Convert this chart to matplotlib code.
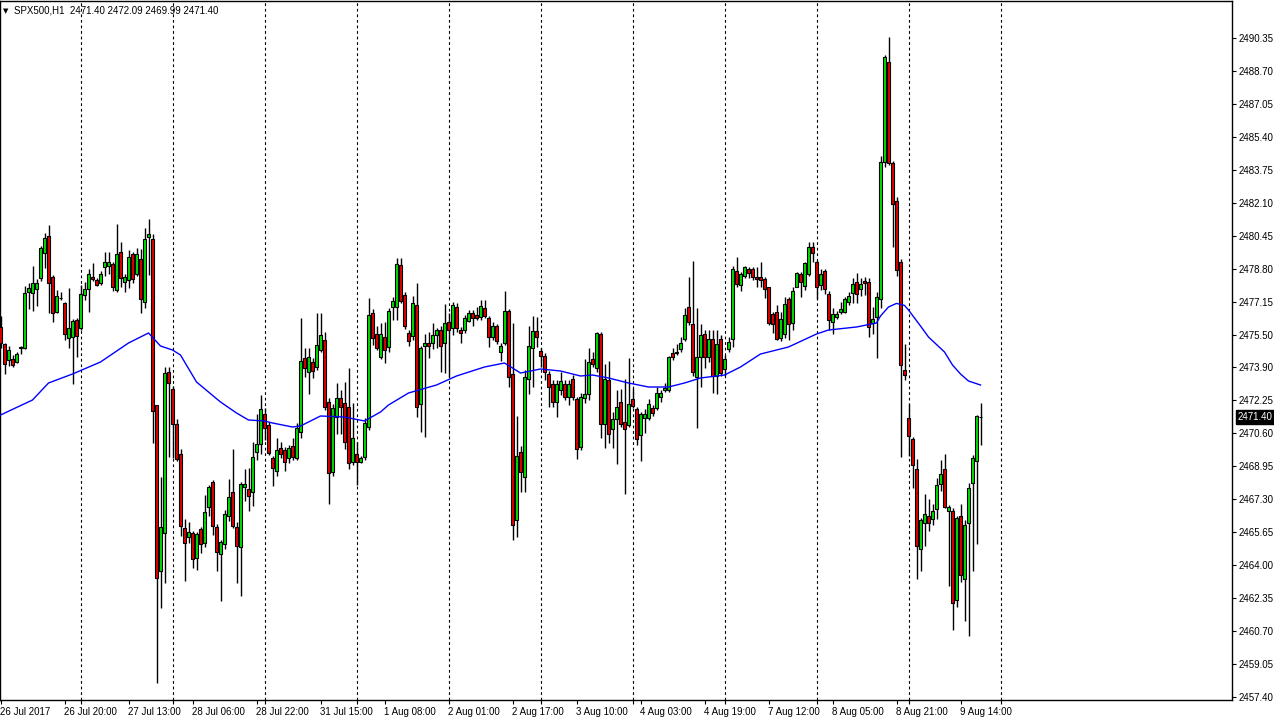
import numpy as np
import matplotlib
matplotlib.use("Agg")
from matplotlib import pyplot as plt
from matplotlib import transforms

plt.rcParams['font.family'] = ['Liberation Sans', 'DejaVu Sans']

# SPX500 H1 candles, bar 0 = 26 Jul 2017 04:00
opens = [
    2475.89, 2475.04, 2474.24, 2474.29, 2474.14, 2474.84, 2474.84, 2477.64, 2477.59, 2477.79,
    2478.34, 2479.59, 2480.44, 2478.39, 2476.64, 2477.34, 2477.09, 2475.34, 2475.39, 2476.24,
    2475.84, 2477.49, 2477.79, 2478.39, 2478.24, 2478.09, 2478.89, 2478.94, 2479.04, 2477.74,
    2479.64, 2478.14, 2478.24, 2479.54, 2478.54, 2479.29, 2477.14, 2480.39, 2480.29, 2471.99,
    2463.69, 2465.59, 2473.64, 2472.79, 2471.04, 2469.54, 2465.84, 2465.39, 2465.59, 2464.34,
    2465.79, 2465.09, 2466.89, 2468.14, 2465.89, 2464.54, 2465.04, 2466.44, 2467.64, 2465.89,
    2464.89, 2467.89, 2467.79, 2467.64, 2469.64, 2470.04, 2471.54, 2470.99, 2469.34, 2468.69,
    2469.84, 2469.74, 2469.34, 2469.94, 2469.34, 2470.64, 2474.34, 2473.64, 2474.14, 2473.89,
    2474.74, 2475.24, 2472.14, 2468.64, 2471.39, 2472.34, 2472.09, 2471.89, 2469.14, 2469.54,
    2469.14, 2469.39, 2470.89, 2476.59, 2475.54, 2474.39, 2475.39, 2474.89, 2476.89, 2476.89,
    2478.99, 2477.49, 2475.59, 2475.44, 2476.99, 2472.04, 2474.94, 2475.09, 2475.09, 2475.49,
    2475.74, 2475.09, 2476.14, 2475.84, 2476.89, 2475.74, 2475.74, 2476.19, 2476.59, 2476.49,
    2476.39, 2476.84, 2476.34, 2475.39, 2475.94, 2474.64, 2475.09, 2476.69, 2473.54, 2466.24,
    2469.64, 2468.39, 2473.29, 2474.84, 2475.69, 2474.69, 2474.44, 2473.54, 2473.04, 2472.14,
    2472.74, 2473.04, 2472.39, 2473.29, 2472.29, 2469.89, 2472.34, 2472.54, 2474.29, 2473.84,
    2475.54, 2471.04, 2473.24, 2470.79, 2471.29, 2472.14, 2471.14, 2470.99, 2472.29, 2471.79,
    2470.49, 2471.34, 2471.34, 2471.84, 2471.84, 2472.39, 2472.74, 2472.74, 2474.59, 2474.59,
    2474.79, 2475.29, 2476.89, 2476.04, 2473.39, 2474.39, 2475.54, 2474.39, 2475.29, 2473.44,
    2475.29, 2473.79, 2474.79, 2475.29, 2478.69, 2477.99, 2478.44, 2478.79, 2478.79, 2478.39,
    2478.39, 2478.29, 2477.89, 2476.54, 2476.64, 2475.34, 2475.54, 2477.29, 2476.09, 2477.89,
    2478.54, 2477.94, 2478.54, 2479.89, 2479.14, 2477.99, 2478.69, 2477.54, 2476.14, 2476.39,
    2476.64, 2476.64, 2477.14, 2477.59, 2478.14, 2477.79, 2478.19, 2478.14, 2476.09, 2476.39,
    2477.29, 2484.14, 2489.14, 2484.09, 2482.19, 2479.14, 2473.74, 2471.34, 2470.29, 2468.79,
    2464.79, 2466.09, 2466.44, 2466.29, 2466.79, 2468.04, 2468.79, 2466.69, 2466.69, 2462.24,
    2466.44, 2463.29, 2466.09, 2468.09, 2469.19, 2471.40,
]
highs = [
    2476.44, 2475.09, 2474.94, 2474.49, 2474.64, 2474.94, 2477.94, 2478.09, 2478.94, 2478.29,
    2479.94, 2480.59, 2480.99, 2478.49, 2477.74, 2477.64, 2477.14, 2477.84, 2476.29, 2476.34,
    2477.99, 2478.14, 2478.79, 2479.09, 2478.34, 2478.69, 2479.64, 2479.64, 2479.14, 2481.04,
    2480.14, 2478.54, 2479.74, 2479.64, 2479.84, 2479.79, 2480.84, 2481.29, 2480.54, 2471.99,
    2468.39, 2473.89, 2473.89, 2472.94, 2471.29, 2469.79, 2466.29, 2466.14, 2465.69, 2465.64,
    2465.89, 2467.49, 2467.99, 2468.24, 2466.04, 2465.24, 2466.74, 2468.29, 2469.79, 2466.14,
    2468.14, 2468.79, 2468.84, 2470.14, 2471.54, 2472.49, 2471.84, 2471.14, 2469.44, 2470.34,
    2470.14, 2469.89, 2469.99, 2470.34, 2471.09, 2476.34, 2474.84, 2474.84, 2474.34, 2476.59,
    2476.59, 2475.64, 2472.34, 2472.04, 2473.09, 2472.74, 2473.14, 2473.84, 2472.09, 2470.14,
    2469.44, 2471.34, 2477.34, 2476.79, 2475.94, 2476.09, 2476.14, 2476.84, 2477.39, 2479.34,
    2479.34, 2477.64, 2475.74, 2477.44, 2478.09, 2474.94, 2475.54, 2475.64, 2476.09, 2475.84,
    2475.94, 2477.04, 2476.59, 2477.14, 2477.09, 2475.89, 2476.49, 2476.74, 2476.74, 2476.89,
    2477.24, 2477.24, 2476.44, 2476.14, 2476.04, 2475.09, 2477.69, 2476.79, 2476.09, 2471.44,
    2469.94, 2473.74, 2475.94, 2476.44, 2476.39, 2474.84, 2474.59, 2473.69, 2473.24, 2473.24,
    2473.64, 2473.24, 2473.24, 2473.49, 2472.39, 2472.59, 2474.29, 2474.84, 2474.64, 2475.64,
    2475.64, 2474.04, 2474.19, 2471.64, 2472.74, 2472.79, 2473.29, 2474.34, 2472.84, 2471.89,
    2471.64, 2471.79, 2472.29, 2471.99, 2472.89, 2472.74, 2473.09, 2474.44, 2474.84, 2475.04,
    2475.39, 2476.84, 2478.39, 2479.19, 2476.84, 2476.04, 2475.74, 2475.74, 2475.74, 2475.74,
    2475.49, 2474.49, 2475.39, 2478.94, 2479.39, 2478.64, 2478.94, 2478.89, 2478.89, 2478.89,
    2479.14, 2478.39, 2477.89, 2476.64, 2476.99, 2476.64, 2477.39, 2477.39, 2477.89, 2478.64,
    2478.64, 2479.14, 2480.14, 2480.14, 2479.24, 2478.79, 2478.79, 2477.69, 2476.84, 2476.69,
    2477.14, 2477.39, 2477.64, 2478.34, 2478.59, 2478.34, 2478.39, 2478.34, 2476.89, 2477.64,
    2484.44, 2489.49, 2490.39, 2484.19, 2482.39, 2479.29, 2475.04, 2472.04, 2470.39, 2469.29,
    2466.34, 2467.54, 2467.29, 2467.04, 2468.34, 2469.24, 2469.54, 2466.99, 2466.84, 2466.44,
    2467.04, 2466.24, 2468.09, 2469.49, 2471.49, 2472.09,
]
lows = [
    2474.84, 2473.54, 2473.94, 2473.89, 2474.09, 2474.54, 2474.79, 2476.79, 2476.69, 2476.94,
    2478.19, 2478.84, 2476.59, 2476.14, 2476.59, 2477.24, 2475.24, 2474.84, 2473.04, 2474.39,
    2475.74, 2477.24, 2476.64, 2478.19, 2477.94, 2477.99, 2478.44, 2478.54, 2477.69, 2477.64,
    2477.89, 2477.64, 2477.84, 2478.09, 2478.44, 2476.59, 2476.84, 2478.49, 2470.09, 2458.09,
    2461.84, 2463.09, 2469.39, 2469.34, 2469.19, 2465.44, 2463.19, 2465.09, 2463.84, 2463.74,
    2464.59, 2464.89, 2466.44, 2465.49, 2463.69, 2462.19, 2464.79, 2466.19, 2465.84, 2463.09,
    2462.44, 2467.19, 2466.69, 2466.94, 2469.24, 2469.54, 2470.24, 2469.49, 2467.94, 2468.44,
    2469.34, 2468.69, 2469.09, 2469.24, 2469.24, 2470.34, 2473.39, 2472.54, 2473.34, 2473.74,
    2474.64, 2471.74, 2467.04, 2468.44, 2470.54, 2470.54, 2469.79, 2468.79, 2468.99, 2467.99,
    2469.09, 2469.24, 2470.74, 2474.99, 2474.74, 2474.29, 2474.09, 2474.64, 2476.24, 2476.24,
    2477.09, 2475.79, 2474.94, 2475.24, 2471.39, 2470.64, 2470.39, 2474.34, 2474.79, 2474.84,
    2473.64, 2473.59, 2473.39, 2475.49, 2475.64, 2475.09, 2475.59, 2476.14, 2475.94, 2476.24,
    2476.24, 2476.34, 2474.89, 2475.24, 2475.04, 2474.19, 2474.99, 2472.89, 2465.24, 2465.39,
    2467.64, 2467.64, 2472.54, 2472.89, 2474.89, 2473.89, 2473.24, 2471.89, 2471.89, 2471.39,
    2472.49, 2472.24, 2471.99, 2472.24, 2469.29, 2469.74, 2472.09, 2472.24, 2473.89, 2473.64,
    2470.34, 2469.84, 2470.09, 2469.84, 2469.04, 2470.89, 2467.54, 2470.89, 2471.84, 2469.99,
    2469.19, 2470.59, 2471.24, 2471.44, 2471.74, 2472.14, 2472.64, 2472.64, 2474.24, 2474.49,
    2474.64, 2475.19, 2475.99, 2473.44, 2470.84, 2472.89, 2473.84, 2474.14, 2472.59, 2472.54,
    2473.44, 2473.44, 2474.64, 2474.89, 2477.89, 2477.69, 2478.34, 2478.34, 2478.24, 2477.89,
    2477.89, 2477.34, 2475.99, 2475.59, 2475.24, 2475.19, 2475.34, 2475.24, 2475.74, 2477.89,
    2477.39, 2477.74, 2478.44, 2479.14, 2477.29, 2477.74, 2477.54, 2475.74, 2475.54, 2476.29,
    2476.54, 2476.59, 2476.99, 2477.09, 2477.09, 2477.44, 2477.49, 2475.39, 2475.54, 2474.34,
    2476.84, 2483.89, 2483.99, 2479.89, 2478.44, 2469.39, 2473.24, 2469.44, 2467.84, 2463.29,
    2463.69, 2464.94, 2465.69, 2465.99, 2466.29, 2467.69, 2466.84, 2462.94, 2460.74, 2461.89,
    2463.14, 2461.19, 2460.44, 2463.69, 2465.04, 2469.99,
]
closes = [
    2475.09, 2474.04, 2474.74, 2473.99, 2474.54, 2474.89, 2477.59, 2477.84, 2478.09, 2478.09,
    2479.84, 2480.34, 2478.09, 2476.59, 2477.44, 2477.34, 2475.54, 2475.84, 2476.19, 2475.44,
    2477.54, 2477.79, 2478.54, 2478.29, 2477.99, 2478.54, 2479.14, 2479.14, 2477.89, 2479.54,
    2478.34, 2478.39, 2479.39, 2478.29, 2479.54, 2477.29, 2480.29, 2480.54, 2471.69, 2463.34,
    2465.89, 2473.59, 2473.09, 2471.04, 2469.29, 2465.94, 2465.09, 2465.64, 2464.29, 2465.54,
    2465.04, 2466.64, 2467.89, 2465.94, 2464.64, 2465.14, 2466.54, 2467.39, 2465.94, 2464.94,
    2468.04, 2468.04, 2467.44, 2469.39, 2470.04, 2471.79, 2470.84, 2469.59, 2468.84, 2469.74,
    2469.54, 2469.14, 2469.84, 2469.39, 2470.84, 2474.19, 2473.84, 2474.39, 2473.69, 2474.99,
    2475.49, 2471.89, 2468.59, 2471.84, 2472.34, 2471.89, 2470.14, 2469.09, 2470.34, 2469.14,
    2469.34, 2471.09, 2476.49, 2475.34, 2474.84, 2475.54, 2474.74, 2476.69, 2477.19, 2479.04,
    2477.19, 2475.94, 2475.19, 2477.09, 2471.89, 2474.84, 2475.09, 2474.94, 2475.49, 2475.74,
    2474.94, 2476.09, 2475.74, 2476.99, 2475.84, 2475.59, 2476.34, 2476.59, 2476.34, 2476.34,
    2476.94, 2476.44, 2475.39, 2475.94, 2475.19, 2474.94, 2476.69, 2473.39, 2465.99, 2469.44,
    2468.64, 2473.39, 2474.94, 2475.69, 2475.39, 2474.44, 2473.64, 2472.89, 2472.14, 2473.04,
    2473.19, 2472.39, 2473.04, 2472.39, 2469.79, 2472.39, 2472.54, 2474.14, 2474.04, 2475.59,
    2471.04, 2473.29, 2470.54, 2471.29, 2471.89, 2471.04, 2470.79, 2472.04, 2471.94, 2470.29,
    2471.54, 2471.54, 2472.04, 2471.59, 2472.59, 2472.59, 2472.84, 2474.39, 2474.39, 2474.64,
    2475.09, 2476.49, 2476.14, 2473.64, 2474.39, 2475.49, 2474.39, 2475.29, 2473.44, 2475.04,
    2473.59, 2474.29, 2475.14, 2478.79, 2478.04, 2478.54, 2478.89, 2478.59, 2478.39, 2478.29,
    2478.24, 2477.79, 2476.09, 2476.04, 2475.29, 2476.29, 2477.04, 2476.04, 2477.69, 2478.59,
    2478.14, 2479.09, 2479.89, 2479.59, 2477.89, 2478.54, 2477.79, 2476.24, 2476.54, 2476.54,
    2476.79, 2477.29, 2477.44, 2478.04, 2477.54, 2478.04, 2478.09, 2475.89, 2476.29, 2477.39,
    2484.14, 2489.39, 2484.09, 2482.04, 2478.74, 2473.99, 2473.49, 2470.44, 2468.99, 2464.94,
    2466.24, 2466.54, 2466.09, 2466.69, 2467.99, 2468.54, 2466.89, 2466.89, 2462.09, 2466.34,
    2463.49, 2465.99, 2467.84, 2469.34, 2471.44, 2471.40,
]

# moving average (blue line), read at some bars
ma_bars = [0, 8, 12, 18, 25, 32, 37, 40, 43, 45, 49, 55, 59, 62, 66, 68, 73, 75, 80, 86,
           91, 95, 97, 102, 109, 114, 121, 126, 130, 135, 140, 145, 148, 152, 157, 162, 167,
           171, 175, 181, 185, 190, 197, 204, 207, 214, 219, 220, 222, 224, 226, 227, 230,
           232, 236, 238, 240, 242, 245]
ma_vals = [2471.49, 2472.24, 2473.09, 2473.54, 2474.14, 2475.09, 2475.59, 2474.94, 2474.74,
           2474.49, 2473.14, 2472.14, 2471.59, 2471.24, 2471.19, 2471.09, 2470.89, 2470.94,
           2471.44, 2471.39, 2471.19, 2471.64, 2471.99, 2472.59, 2472.99, 2473.44, 2473.89,
           2474.09, 2473.59, 2473.79, 2473.69, 2473.44, 2473.49, 2473.34, 2473.09, 2472.89,
           2472.89, 2473.09, 2473.34, 2473.49, 2473.89, 2474.54, 2474.89, 2475.54, 2475.74,
           2475.89, 2476.09, 2476.44, 2476.89, 2477.07, 2476.97, 2476.74, 2475.94, 2475.39,
           2474.64, 2473.99, 2473.54, 2473.19, 2472.99]

time_labels = ["26 Jul 2017", "26 Jul 20:00", "27 Jul 13:00", "28 Jul 06:00", "28 Jul 22:00",
               "31 Jul 15:00", "1 Aug 08:00", "2 Aug 01:00", "2 Aug 17:00", "3 Aug 10:00",
               "4 Aug 03:00", "4 Aug 19:00", "7 Aug 12:00", "8 Aug 05:00", "8 Aug 21:00",
               "9 Aug 14:00"]
price_ticks = [2490.35, 2488.70, 2487.05, 2485.40, 2483.75, 2482.10, 2480.45, 2478.80,
               2477.15, 2475.50, 2473.90, 2472.25, 2470.60, 2468.95, 2467.30, 2465.65,
               2464.00, 2462.35, 2460.70, 2459.05, 2457.40]
last_price = 2471.40

o = np.array(opens)
h = np.array(highs)
l = np.array(lows)
c = np.array(closes)
x = np.arange(len(o))

W, H = 1274, 725
fig = plt.figure(figsize=(W / 100, H / 100), dpi=100)
ax = fig.add_axes([0, 25 / H, 1232 / W, 699 / H])
ax.set_xlim(-0.125, 307.875)
ax.set_ylim(2457.24, 2492.19)

# grid separators
for gx in range(20, 251, 23):
    ax.axvline(gx, color="black", lw=0.8, linestyle=(0, (2.5, 2.5)), zorder=1)

# candles
up = c >= o
ax.vlines(x, l, h, color="black", lw=1, zorder=2)
ax.bar(x, np.abs(c - o), bottom=np.minimum(o, c), width=0.75,
       color=np.where(up, "#00e000", "#e00000"), edgecolor="black", linewidth=0.8, zorder=3)

ax.plot(ma_bars, ma_vals, color="#0000ff", lw=1, zorder=4)

# axes styling
for s in ax.spines.values():
    s.set_color("black")
    s.set_linewidth(1)
ax.yaxis.tick_right()
ax.set_yticks(price_ticks)
ax.set_yticklabels(["%.2f" % p for p in price_ticks])
ax.tick_params(axis="y", direction="out", length=3, width=0.8, pad=1.5, labelsize=7, colors="black")

ax.set_xticks(range(0, 16 * len(time_labels), 16))
ax.set_xticklabels(time_labels, ha="left")
ax.tick_params(axis="x", direction="out", length=3, width=0.8, pad=2, labelsize=7, colors="black")
ax.set_xticks(range(20, 251, 23), minor=True)
ax.tick_params(axis="x", which="minor", direction="out", length=3, width=0.8)

# last price box
trans = transforms.blended_transform_factory(ax.transAxes, ax.transData)
ax.text(1.0045, last_price, "%.2f" % last_price, transform=trans, ha="left", va="center",
        fontsize=7, color="white",
        bbox=dict(boxstyle="square,pad=0.2", fc="black", ec="black"))

# header
ax.text(0.0025, 0.986, "\u25BC", transform=ax.transAxes, fontsize=5, va="center", ha="left",
        family=["DejaVu Sans"])
ax.text(0.011, 0.986, "SPX500,H1  %.2f %.2f %.2f %.2f" % (opens[-1], highs[-1], lows[-1], closes[-1]),
        transform=ax.transAxes, fontsize=7, va="center", ha="left")

fig.savefig("out.png", dpi=100, facecolor="white")
